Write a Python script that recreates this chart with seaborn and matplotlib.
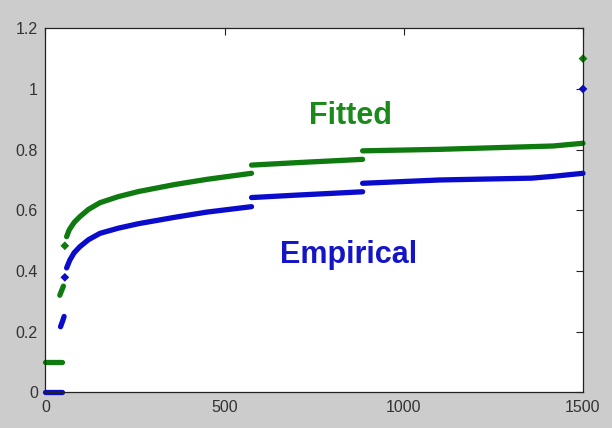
import matplotlib
matplotlib.use('Agg')
import matplotlib.pyplot as plt
import pandas as pd
import seaborn as sns

# Empirical curve, split into the pieces that show as separate runs of dots
empirical_x = [[0, 45], [42, 47, 52],
               [59, 68, 80, 96, 120, 152, 203, 260, 361, 450, 575],
               [575, 700, 885],
               [885, 1101, 1357, 1417, 1500]]
empirical_y = [[0.0, 0.0], [0.216, 0.232, 0.25],
               [0.41, 0.436, 0.46, 0.48, 0.503, 0.524, 0.541, 0.556, 0.577, 0.594, 0.612],
               [0.642, 0.65, 0.661],
               [0.689, 0.700, 0.706, 0.712, 0.722]]
empirical_dots_x = [54, 1500]
empirical_dots_y = [0.379, 1.0]

# Fitted curve
fitted_x = [[0, 45], [40, 45, 50],
            [59, 66, 80, 96, 120, 152, 203, 260, 361, 450, 575],
            [575, 700, 885],
            [885, 1101, 1417, 1500]]
fitted_y = [[0.1, 0.1], [0.32, 0.335, 0.35],
            [0.513, 0.535, 0.56, 0.579, 0.603, 0.625, 0.645, 0.662, 0.685, 0.702, 0.722],
            [0.749, 0.757, 0.768],
            [0.796, 0.801, 0.812, 0.821]]
fitted_dots_x = [54, 1500]
fitted_dots_y = [0.483, 1.1]

x_ticks = [0, 500, 1000, 1500]
y_ticks = [0, 0.2, 0.4, 0.6, 0.8, 1.0, 1.2]
y_tick_labels = ['0', '0.2', '0.4', '0.6', '0.8', '1', '1.2']

colors = {'Empirical': '#0b0bcc', 'Fitted': '#0f7a0f'}

rows = []
dots = []
for name, xs_list, ys_list, dx, dy in [
        ('Empirical', empirical_x, empirical_y, empirical_dots_x, empirical_dots_y),
        ('Fitted', fitted_x, fitted_y, fitted_dots_x, fitted_dots_y)]:
    for i, (xs, ys) in enumerate(zip(xs_list, ys_list)):
        for x, y in zip(xs, ys):
            rows.append({'x': x, 'y': y, 'series': name, 'seg': i})
    for x, y in zip(dx, dy):
        dots.append({'x': x, 'y': y, 'series': name})
df = pd.DataFrame(rows)
dots = pd.DataFrame(dots)

sns.set_style('white')
plt.rcParams['font.family'] = ['Liberation Sans', 'DejaVu Sans']

fig = plt.figure(figsize=(6.12, 4.28), dpi=100)
fig.patch.set_facecolor('#cccccc')
ax = fig.add_axes([0.0743, 0.0834, 0.8783, 0.8505])
ax.set_facecolor('white')

sns.lineplot(data=df, x='x', y='y', hue='series', units='seg', estimator=None,
             palette=colors, linewidth=3.8, legend=False, sort=False, ax=ax)
for line in ax.lines:
    line.set_clip_on(False)
    line.set_solid_capstyle('round')

sns.scatterplot(data=dots, x='x', y='y', hue='series', palette=colors,
                marker='D', s=20, linewidth=0, legend=False, ax=ax)
for coll in ax.collections:
    coll.set_clip_on(False)

ax.text(850, 0.91, 'Fitted', color='#1a8a1a', fontsize=22, fontweight='bold',
        ha='center', va='center')
ax.text(846, 0.452, 'Empirical', color='#1515c8', fontsize=22, fontweight='bold',
        ha='center', va='center')

ax.set_xlim(0, 1500)
ax.set_ylim(0, 1.2)
ax.set_xticks(x_ticks)
ax.set_xticklabels([str(t) for t in x_ticks])
ax.set_yticks(y_ticks)
ax.set_yticklabels(y_tick_labels)
ax.set_xlabel('')
ax.set_ylabel('')
ax.tick_params(direction='in', length=5, width=0.8, top=True, right=True,
               labelsize=11.5, labelcolor='#333333', color='#222222', pad=5.5)
for s in ax.spines.values():
    s.set_color('#222222')
    s.set_linewidth(0.9)

fig.savefig('out.png', dpi=100, facecolor=fig.get_facecolor())
